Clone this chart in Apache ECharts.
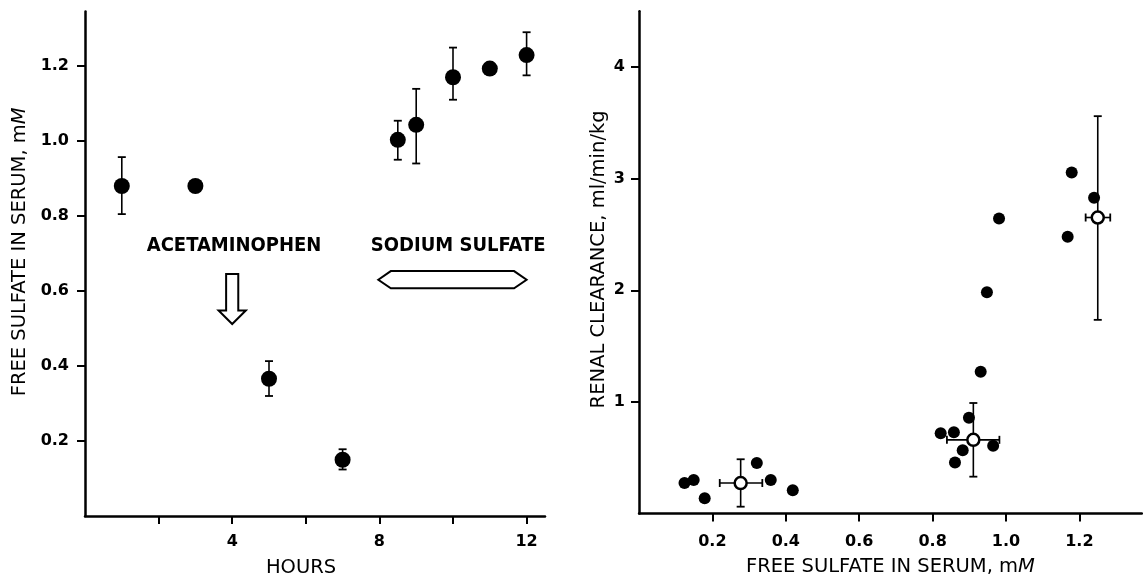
<!DOCTYPE html>
<html><head><meta charset="utf-8">
<script src="https://cdn.jsdelivr.net/npm/echarts@6/dist/echarts.min.js"></script>
<style>html,body{margin:0;padding:0;background:#fff}#c{width:1143px;height:575px}</style>
</head><body><div id="c"></div>
<script>
// ---- Left panel: free sulfate in serum vs. hours ----
const hours = [1, 3, 5, 7, 8.5, 9, 10, 11, 12];
const serumSulfate = [0.88, 0.88, 0.366, 0.15, 1.003, 1.043, 1.17, 1.193, 1.229];
const serumLow = [0.805, null, 0.32, 0.124, 0.95, 0.94, 1.11, null, 1.175];
const serumHigh = [0.957, null, 0.413, 0.178, 1.054, 1.139, 1.249, null, 1.29];
const hourTicks = [2, 4, 6, 8, 10, 12];
const hourLabels = [4, 8, 12];
const serumTicks = [0.2, 0.4, 0.6, 0.8, 1.0, 1.2];

// ---- Right panel: renal clearance vs. free sulfate ----
const indivSulfate = [0.124, 0.149, 0.179, 0.321, 0.359, 0.419, 0.822, 0.858, 0.899, 0.882, 0.861, 0.965, 0.931, 0.948, 0.981, 1.179, 1.168, 1.240];
const indivClearance = [0.273, 0.30, 0.136, 0.453, 0.30, 0.208, 0.72, 0.727, 0.858, 0.566, 0.457, 0.608, 1.27, 1.983, 2.643, 3.056, 2.479, 2.83];
const meanSulfate = [0.277, 0.911, 1.25];
const meanClearance = [0.273, 0.66, 2.652];
const meanClearanceLow = [0.061, 0.33, 1.735];
const meanClearanceHigh = [0.486, 0.99, 3.56];
const meanSulfateLow = [0.22, 0.839, 1.217];
const meanSulfateHigh = [0.336, 0.982, 1.284];
const sulfateTicks = [0.2, 0.4, 0.6, 0.8, 1.0, 1.2];
const clearanceTicks = [1, 2, 3, 4];

// ---- Annotations (left panel, data coordinates) ----
const annotationText = ['ACETAMINOPHEN', 'SODIUM SULFATE'];
const annotationHour = [4.05, 10.14];
const annotationLevel = [0.72, 0.72];
const doseHour = [4];            // acetaminophen arrow
const doseArrowLevels = [0.645, 0.548, 0.512]; // top, head base, tip
const infusionHours = [7.97, 12.0];
const infusionLevel = [0.63];

const FONT = 'DejaVu Sans';
const NAME_SIZE = 19.5;
const tickLabelStyle = { fontFamily: FONT, fontWeight: 'bold', fontSize: 16, color: '#000' };
const nameStyle = { fontFamily: FONT, fontSize: NAME_SIZE, color: '#000',
  rich: { i: { fontFamily: FONT, fontSize: NAME_SIZE, fontStyle: 'italic', color: '#000' } } };
const axLine = { show: true, onZero: false, lineStyle: { color: '#000', width: 2.5 } };
const axTick = (vals) => ({ show: true, inside: false, length: 8, customValues: vals, lineStyle: { color: '#000', width: 2 } });

const serumErr = hours.map((h, i) => [h, serumSulfate[i], serumLow[i], serumHigh[i]]).filter(d => d[2] != null);
const meanErr = meanSulfate.map((s, i) => [s, meanClearance[i], meanClearanceLow[i], meanClearanceHigh[i], meanSulfateLow[i], meanSulfateHigh[i]]);

function vLine(p1, p2, w) { return { type: 'line', shape: { x1: p1[0], y1: p1[1], x2: p2[0], y2: p2[1] }, style: { stroke: '#000', lineWidth: w } }; }

function errRender(params, api) {
  const x = api.value(0), lo = api.value(2), hi = api.value(3);
  const a = api.coord([x, lo]), b = api.coord([x, hi]);
  const cap = 4, ch = [vLine(a, b, 1.6), vLine([a[0] - cap, a[1]], [a[0] + cap, a[1]], 1.8), vLine([b[0] - cap, b[1]], [b[0] + cap, b[1]], 1.8)];
  if (params.seriesIndex === 3) {
    const y = api.value(1), xl = api.value(4), xh = api.value(5);
    const c = api.coord([xl, y]), d = api.coord([xh, y]);
    ch.push(vLine(c, d, 1.6), vLine([c[0], c[1] - cap], [c[0], c[1] + cap], 1.8), vLine([d[0], d[1] - cap], [d[0], d[1] + cap], 1.8));
  }
  return { type: 'group', children: ch };
}

function annRender(params, api) {
  const ch = [];
  annotationText.forEach((t, i) => {
    const p = api.coord([annotationHour[i], annotationLevel[i]]);
    ch.push({ type: 'text', x: p[0], y: p[1], style: { text: t, fontFamily: 'DejaVu Sans Condensed', fontWeight: 'bold', fontSize: 20, fill: '#000', align: 'center', verticalAlign: 'middle' } });
  });
  // down arrow at acetaminophen dose
  const h = doseHour[0], [top, base, tip] = doseArrowLevels;
  const sw = 0.165, hw = 0.37;
  const arrow = [[h - sw, top], [h + sw, top], [h + sw, base], [h + hw, base], [h, tip], [h - hw, base], [h - sw, base]].map(q => api.coord(q));
  ch.push({ type: 'polygon', shape: { points: arrow }, style: { fill: '#fff', stroke: '#000', lineWidth: 2 } });
  // double-headed infusion arrow
  const [s, e] = infusionHours, lv = infusionLevel[0], bev = 0.34, hh = 0.023;
  const hex = [[s, lv], [s + bev, lv + hh], [e - bev, lv + hh], [e, lv], [e - bev, lv - hh], [s + bev, lv - hh]].map(q => api.coord(q));
  ch.push({ type: 'polygon', shape: { points: hex }, style: { fill: '#fff', stroke: '#000', lineWidth: 2 } });
  return { type: 'group', children: ch };
}

const chart = echarts.init(document.getElementById('c'), null, { renderer: 'canvas' });
chart.setOption({
  backgroundColor: '#fff',
  animation: false,
  grid: [
    { left: 85, right: 598, top: 11.6, bottom: 59, outerBoundsMode: 'none', containLabel: false },
    { left: 639, right: 1.2, top: 11.25, bottom: 61.5, outerBoundsMode: 'none', containLabel: false }
  ],
  xAxis: [
    { type: 'value', gridIndex: 0, min: 0, max: 12.5, splitLine: { show: false },
      axisLine: axLine, axisTick: axTick(hourTicks),
      axisLabel: { ...tickLabelStyle, margin: 18, customValues: hourLabels, formatter: v => String(v) },
      name: 'HOURS', nameLocation: 'middle', nameGap: 42, nameTextStyle: { ...nameStyle, padding: [0, 28, 0, 0] } },
    { type: 'value', gridIndex: 1, min: 0, max: 1.37, splitLine: { show: false },
      axisLine: axLine, axisTick: axTick(sulfateTicks),
      axisLabel: { ...tickLabelStyle, margin: 20, customValues: sulfateTicks, formatter: v => v.toFixed(1) },
      name: 'FREE SULFATE IN SERUM, m{i|M}', nameLocation: 'middle', nameGap: 43.5, nameTextStyle: nameStyle }
  ],
  yAxis: [
    { type: 'value', gridIndex: 0, min: 0, max: 1.345, splitLine: { show: false },
      axisLine: axLine, axisTick: axTick(serumTicks),
      axisLabel: { ...tickLabelStyle, margin: 16, customValues: serumTicks, formatter: v => v.toFixed(1) },
      name: 'FREE SULFATE IN SERUM, m{i|M}', nameLocation: 'middle', nameGap: 55, nameTextStyle: { ...nameStyle, padding: [0, 0, 0, 24] } },
    { type: 'value', gridIndex: 1, min: 0, max: 4.5, splitLine: { show: false },
      axisLine: axLine, axisTick: axTick(clearanceTicks),
      axisLabel: { ...tickLabelStyle, margin: 14, customValues: clearanceTicks, formatter: v => String(v) },
      name: 'RENAL CLEARANCE, ml/min/kg', nameLocation: 'middle', nameGap: 30, nameTextStyle: { ...nameStyle, padding: [0, 0, 0, 6] } }
  ],
  series: [
    { type: 'custom', xAxisIndex: 0, yAxisIndex: 0, renderItem: annRender, data: [[0, 0]], silent: true, z: 1 },
    { type: 'custom', xAxisIndex: 0, yAxisIndex: 0, renderItem: errRender, data: serumErr, encode: { x: 0, y: 1 }, z: 2 },
    { type: 'scatter', xAxisIndex: 0, yAxisIndex: 0, data: hours.map((h, i) => [h, serumSulfate[i]]), symbolSize: 16, itemStyle: { color: '#000', opacity: 1 }, z: 3 },
    { type: 'custom', xAxisIndex: 1, yAxisIndex: 1, renderItem: errRender, data: meanErr, encode: { x: 0, y: 1 }, z: 2 },
    { type: 'scatter', xAxisIndex: 1, yAxisIndex: 1, data: indivSulfate.map((s, i) => [s, indivClearance[i]]), symbolSize: 12, itemStyle: { color: '#000', opacity: 1 }, z: 3 },
    { type: 'scatter', xAxisIndex: 1, yAxisIndex: 1, data: meanSulfate.map((s, i) => [s, meanClearance[i]]), symbolSize: 12, itemStyle: { color: '#fff', borderColor: '#000', borderWidth: 2.5, opacity: 1 }, z: 4 }
  ]
});
</script></body></html>
